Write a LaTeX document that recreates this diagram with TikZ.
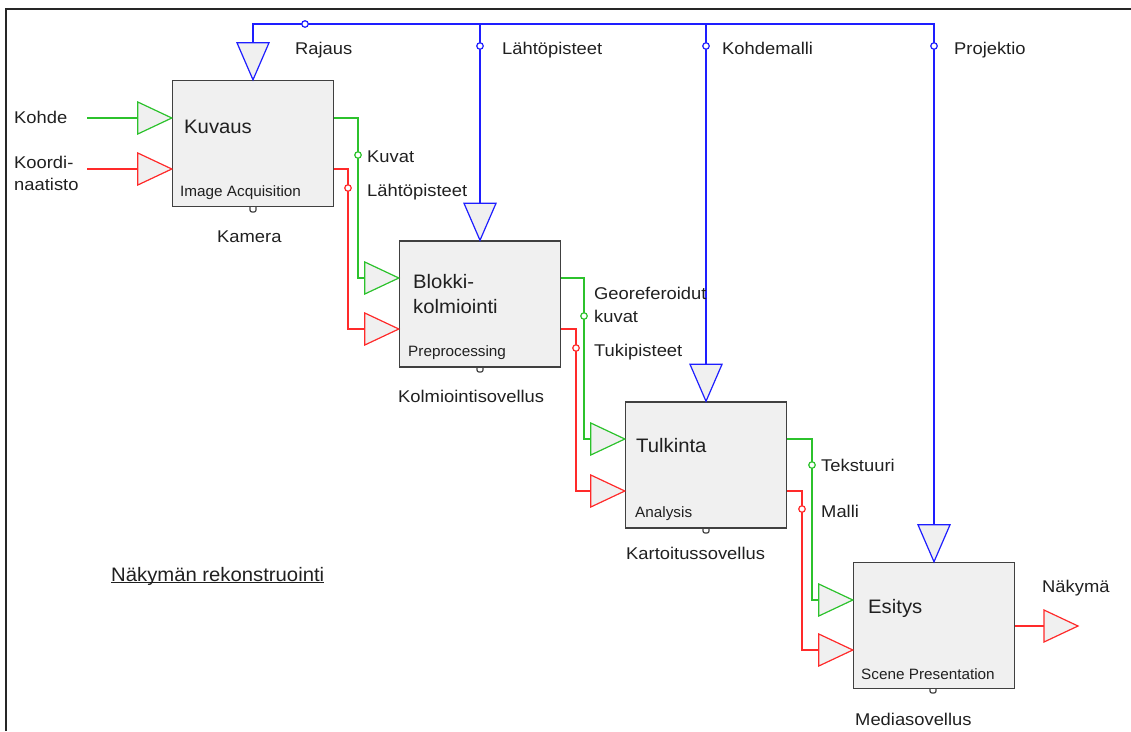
\documentclass[tikz,border=0pt]{standalone}
\usepackage{fontspec}
\setmainfont{Liberation Sans}
\newfontfamily\lblfont{Liberation Sans}[FakeStretch=1.08]
\newfontfamily\ttlfont{Liberation Sans}[FakeStretch=1.04]
\newfontfamily\subfont{Liberation Sans}[FakeStretch=1.02]
\definecolor{boxfill}{HTML}{F0F0F0}
\definecolor{boxline}{HTML}{404040}
\definecolor{txt}{HTML}{202020}
\definecolor{wblue}{HTML}{1E1EFF}
\definecolor{wgreen}{HTML}{2CC22C}
\definecolor{wred}{HTML}{FF2A2A}
% triangle pointing right, apex at #2, drawn in colour #1
\newcommand\rtri[2]{\draw[tri=#1] ($(#2)+(-34,-16)$) -- (#2) -- ($(#2)+(-34,16)$) -- cycle;}
% triangle pointing down, apex at #2
\newcommand\dtri[2]{\draw[tri=#1] ($(#2)+(-16,-37)$) -- (#2) -- ($(#2)+(16,-37)$) -- cycle;}
\usetikzlibrary{calc}
\begin{document}
\begin{tikzpicture}[x=1pt,y=-1pt,
  blk/.style={draw=boxline,fill=boxfill,line width=1.4pt,inner sep=0pt,
    minimum width=161pt,minimum height=126pt},
  tri/.style={draw=#1,fill=boxfill,line width=1.2pt,line join=miter},
  wire/.style={draw=#1,line width=1.3pt},
  tap/.style={circle,draw=#1,fill=white,line width=1.2pt,inner sep=0pt,minimum size=6.5pt},
  port/.style={draw=boxline,fill=white,line width=1.2pt,rounded corners=2pt},
  lbl/.style={anchor=base west,inner sep=0pt,text=txt,font=\lblfont\fontsize{17}{20}\selectfont},
  ttl/.style={anchor=base west,inner sep=0pt,text=txt,font=\ttlfont\fontsize{19.5}{24}\selectfont},
  sub/.style={anchor=base west,inner sep=0pt,text=txt,font=\subfont\fontsize{15}{18}\selectfont}]
\useasboundingbox (0,0) rectangle (1131,731);
% frame (top and left edges only)
\draw[line width=2pt,black!85] (5.5,731) -- (5.5,8.5) -- (1131,8.5);

% ports below the boxes (drawn first, the boxes cover their tops)
\draw[port] (250,200) rectangle (256,212);
\draw[port] (477,360) rectangle (483,372);
\draw[port] (703,521) rectangle (709,533);
\draw[port] (930,681) rectangle (936,693);

% process boxes
\node[blk] (kuv) at (253,143.5) {};
\node[blk] (blo) at (480,304) {};
\node[blk] (tul) at (706,465) {};
\node[blk] (esi) at (934,625.5) {};

% control bus
\coordinate (b0) at (253,24);
\coordinate (b1) at (480,24);
\coordinate (b2) at (706,24);
\coordinate (b3) at (934,24);
\coordinate (kuvT) at ($(kuv.north)+(0,-37)$);
\coordinate (bloT) at ($(blo.north)+(0,-37)$);
\coordinate (tulT) at ($(tul.north)+(0,-37)$);
\coordinate (esiT) at ($(esi.north)+(0,-37)$);
\draw[wire=wblue] (kuvT) -- (b0) -- (b3) -- (esiT);
\draw[wire=wblue] (b1) -- (bloT);
\draw[wire=wblue] (b2) -- (tulT);
\dtri{wblue}{kuv.north}
\dtri{wblue}{blo.north}
\dtri{wblue}{tul.north}
\dtri{wblue}{esi.north}
\node[tap=wblue] (t0) at (305,24) {};
\node[tap=wblue] (t1) at (480,46) {};
\node[tap=wblue] (t2) at (706,46) {};
\node[tap=wblue] (t3) at (934,46) {};
\node[lbl] (lraj) at (295,54) {Rajaus};
\node[lbl] (llah) at (502,54) {Lähtöpisteet};
\node[lbl] (lkoh) at (722,54) {Kohdemalli};
\node[lbl] (lpro) at (954,54) {Projektio};

% inputs of Kuvaus
\coordinate (kA) at (kuv.west |- 0,118);
\coordinate (kB) at (kuv.west |- 0,169);
\coordinate (inA) at (87,118);
\coordinate (inB) at (87,169);
\draw[wire=wgreen] (inA) -- ($(kA)+(-34,0)$);
\draw[wire=wred] (inB) -- ($(kB)+(-34,0)$);
\rtri{wgreen}{kA}
\rtri{wred}{kB}

% Kuvaus -> Blokkikolmiointi
\coordinate (bA) at (blo.west |- 0,278);
\coordinate (bB) at (blo.west |- 0,329);
\draw[wire=wgreen] (kuv.east |- kA) -- (358,118) -- (358,278) -- ($(bA)+(-34,0)$);
\draw[wire=wred] (kuv.east |- kB) -- (348,169) -- (348,329) -- ($(bB)+(-34,0)$);
\rtri{wgreen}{bA}
\rtri{wred}{bB}
\node[tap=wgreen] (g1) at (358,155) {};
\node[tap=wred] (r1) at (348,188) {};

% Blokkikolmiointi -> Tulkinta
\coordinate (tA) at (tul.west |- 0,439);
\coordinate (tB) at (tul.west |- 0,491);
\draw[wire=wgreen] (blo.east |- bA) -- (584,278) -- (584,439) -- ($(tA)+(-34,0)$);
\draw[wire=wred] (blo.east |- bB) -- (576,329) -- (576,491) -- ($(tB)+(-34,0)$);
\rtri{wgreen}{tA}
\rtri{wred}{tB}
\node[tap=wgreen] (g2) at (584,316) {};
\node[tap=wred] (r2) at (576,348) {};

% Tulkinta -> Esitys
\coordinate (eA) at (esi.west |- 0,600);
\coordinate (eB) at (esi.west |- 0,650);
\draw[wire=wgreen] (tul.east |- tA) -- (812,439) -- (812,600) -- ($(eA)+(-34,0)$);
\draw[wire=wred] (tul.east |- tB) -- (802,491) -- (802,650) -- ($(eB)+(-34,0)$);
\rtri{wgreen}{eA}
\rtri{wred}{eB}
\node[tap=wgreen] (g3) at (812,465) {};
\node[tap=wred] (r3) at (802,509) {};

% output of Esitys
\coordinate (out) at (1078,626);
\draw[wire=wred] (esi.east |- out) -- ($(out)+(-34,0)$);
\rtri{wred}{out}

% box texts
\node[ttl] (nkuv) at (184,133) {Kuvaus};
\node[sub] (skuv) at (180,196) {Image Acquisition};
\node[ttl] (nblo1) at (413,288) {Blokki-};
\node[ttl] (nblo2) at (413,313) {kolmiointi};
\node[sub] (sblo) at (408,356) {Preprocessing};
\node[ttl] (ntul) at (636,452) {Tulkinta};
\node[sub] (stul) at (635,517) {Analysis};
\node[ttl] (nesi) at (868,613) {Esitys};
\node[sub] (sesi) at (861,679) {Scene Presentation};

% tools below the boxes
\node[lbl] (mkuv) at (217,242) {Kamera};
\node[lbl] (mblo) at (398,402) {Kolmiointisovellus};
\node[lbl] (mtul) at (626,559) {Kartoitussovellus};
\node[lbl] (mesi) at (855,725) {Mediasovellus};

% flow labels
\node[lbl] (lkohde) at (14,123) {Kohde};
\node[lbl] (lkoo1) at (14,168) {Koordi-};
\node[lbl] (lkoo2) at (14,190) {naatisto};
\node[lbl] (lkuvat) at (367,162) {Kuvat};
\node[lbl] (llah2) at (367,196) {Lähtöpisteet};
\node[lbl] (lgeo1) at (594,299) {Georeferoidut};
\node[lbl] (lgeo2) at (594,322) {kuvat};
\node[lbl] (ltuk) at (594,356) {Tukipisteet};
\node[lbl] (ltek) at (821,471) {Tekstuuri};
\node[lbl] (lmal) at (821,517) {Malli};
\node[lbl] (lnak) at (1042,592) {Näkymä};

% title
\node[ttl] (title) at (111,581) {\underbar{Näkymän rekonstruointi}};
\end{tikzpicture}
\end{document}
